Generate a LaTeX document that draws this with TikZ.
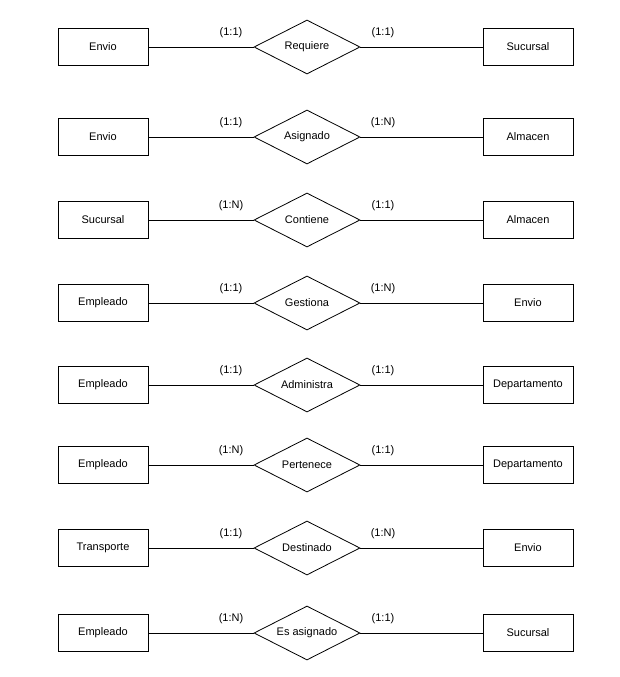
\documentclass[tikz,border=0pt]{standalone}
\usepackage{fontspec}
\setmainfont{Liberation Sans}
\usetikzlibrary{shapes.geometric}
\tikzset{
  entity/.style={draw=black,line width=0.8pt,minimum width=90pt,minimum height=37pt,
    inner sep=1pt,font=\fontsize{11}{13}\selectfont},
  relation/.style={diamond,draw=black,line width=0.8pt,aspect=2,minimum width=106pt,
    minimum height=54pt,inner sep=1pt,font=\fontsize{11}{13}\selectfont},
  link/.style={draw=black,line width=0.8pt},
  card/.style={font=\fontsize{11}{13}\selectfont,inner sep=0pt},
}
\begin{document}
\begin{tikzpicture}[x=1pt,y=1pt]
  \useasboundingbox (0,0) rectangle (619,-677);
  % one row per relationship: y / left entity / relation / right entity / cardinalities
  \foreach \i/\y/\le/\re/\ri/\lc/\rc in {
      1/47/Envio/Requiere/Sucursal/(1:1)/(1:1),
      2/137/Envio/Asignado/Almacen/(1:1)/(1:N),
      3/220/Sucursal/Contiene/Almacen/(1:N)/(1:1),
      4/303/Empleado/Gestiona/Envio/(1:1)/(1:N),
      5/385/Empleado/Administra/Departamento/(1:1)/(1:1),
      6/465/Empleado/Pertenece/Departamento/(1:N)/(1:1),
      7/548/Transporte/Destinado/Envio/(1:1)/(1:N),
      8/633/Empleado/Es asignado/Sucursal/(1:N)/(1:1)}{
    \node[entity] (l\i) at (103,-\y) {\le};
    \node[relation] (rel\i) at (307,-\y) {\re};
    \node[entity] (r\i) at (528,-\y) {\ri};
    \draw[link] (l\i) -- (rel\i);
    \draw[link] (rel\i) -- (r\i);
    \node[card] (lc\i) at (231,-\y+14) {\lc};
    \node[card] (rc\i) at (383,-\y+14) {\rc};
  }
\end{tikzpicture}
\end{document}
